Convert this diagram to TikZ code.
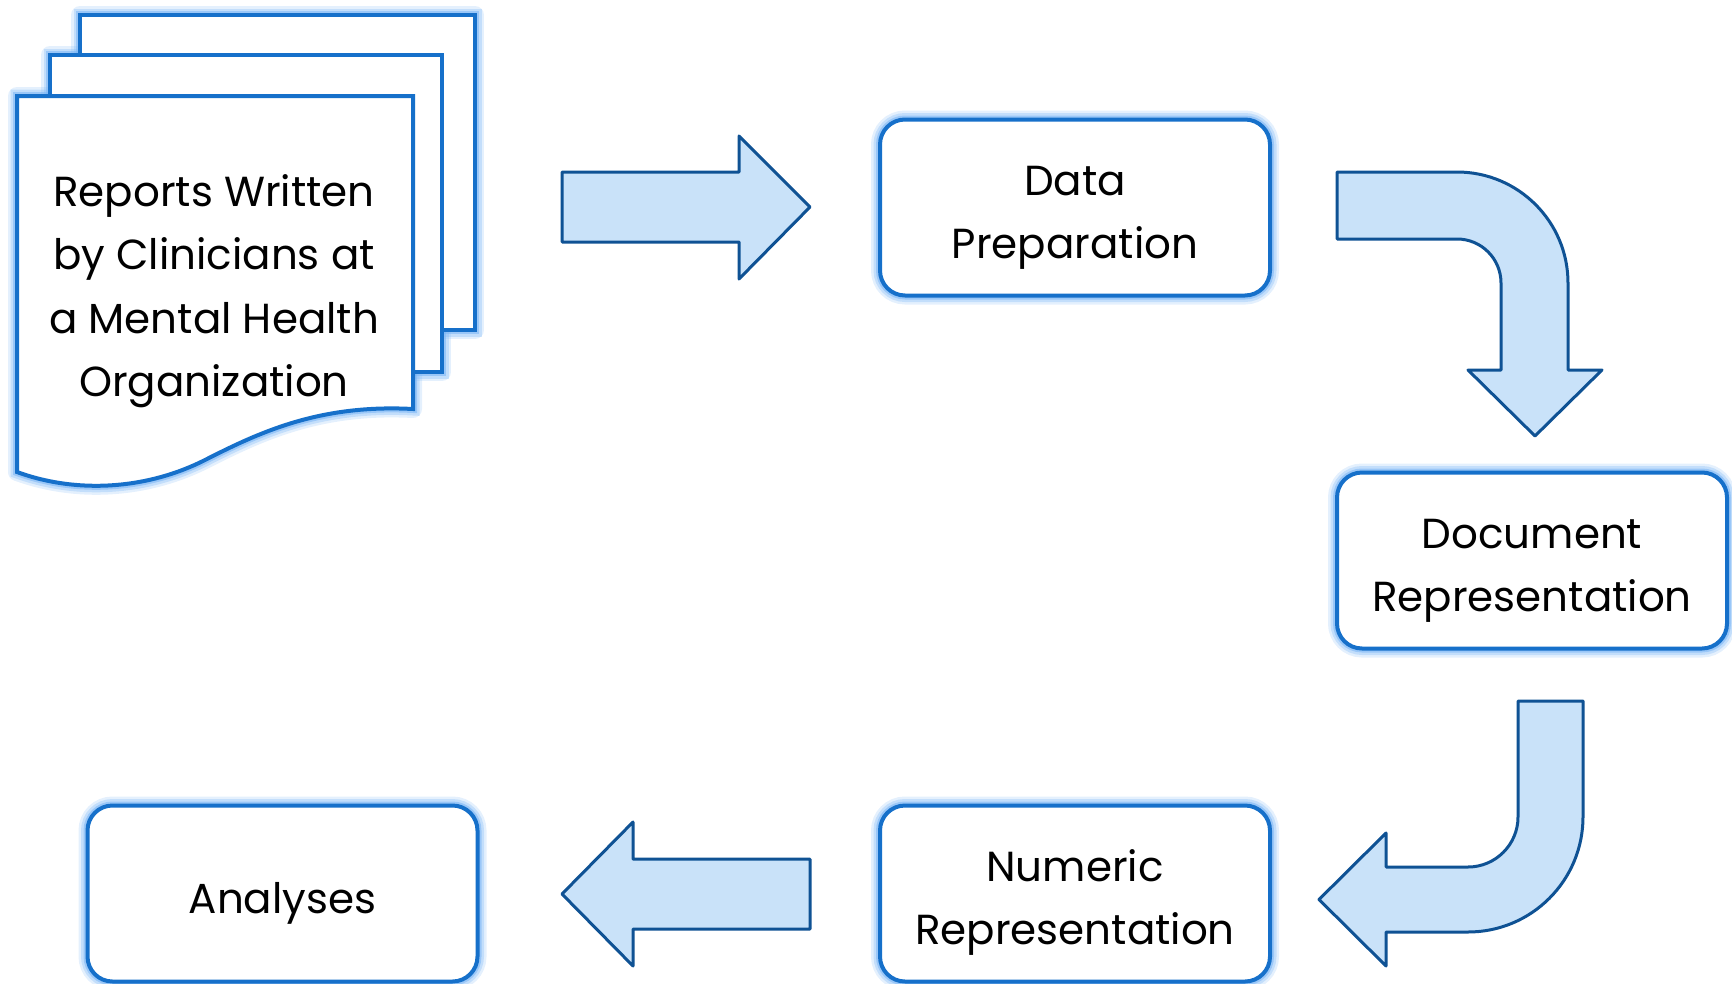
\documentclass[tikz,border=0pt]{standalone}
\usepackage{fontspec}
\setmainfont{Poppins}
\definecolor{boxblue}{RGB}{22,112,202}
\definecolor{glowc}{RGB}{120,180,245}
\definecolor{arrowfill}{RGB}{201,226,249}
\definecolor{arrowdraw}{RGB}{15,82,148}
\newcommand\topstrut{\rule{0pt}{50pt}}
\tikzset{
  glowonly/.style={draw=glowc, line width=18pt, opacity=.2, line join=round,
    preaction={draw=glowc, line width=13pt, opacity=.3},
    preaction={draw=glowc, line width=8pt, opacity=.55}},
  glow/.style={preaction={draw=glowc, line width=18pt, opacity=.2},
    preaction={draw=glowc, line width=13pt, opacity=.3},
    preaction={draw=glowc, line width=8pt, opacity=.55}},
  pagebox/.style={draw=boxblue, fill=white, line width=4pt},
  labeltext/.style={align=center, font=\fontsize{42}{63.5}\selectfont},
  procbox/.style={labeltext, glow, draw=boxblue, fill=white, line width=4pt, rounded corners=25pt,
    minimum width=390pt, minimum height=176pt, inner sep=0pt},
  blockarrow/.style={draw=arrowdraw, fill=arrowfill, line width=3pt, line join=round},
}
\newcommand\backpage[1]{\path[#1] (80,15) rectangle (475,330);}
\newcommand\midpage[1]{\path[#1] (50,55) rectangle (442,372);}
\newcommand\frontpage[1]{\path[#1] (17,96) -- (413,96) -- (413,409)
  .. controls (320,404) and (260,432) .. (205,460)
  .. controls (150,488) and (80,495) .. (17,472) -- cycle;}
\begin{document}
\begin{tikzpicture}[x=1pt,y=-1pt]
\useasboundingbox (0,0) rectangle (1732,983);
% stacked report pages
\backpage{glowonly}
\midpage{glowonly}
\frontpage{glowonly}
\backpage{pagebox}
\midpage{pagebox}
\frontpage{pagebox}
\node[labeltext] (reports) at (214,291)
  {Reports Written\\by Clinicians at\\a Mental Health\\Organization};
% process boxes
\node[procbox] (prep) at (1075,207.5) {\topstrut Data\\Preparation};
\node[procbox] (docrep) at (1532,560.5) {\topstrut Document\\Representation};
\node[procbox] (numrep) at (1075,893.5) {\topstrut Numeric\\Representation};
\node[procbox] (analyses) at (282.5,893.5) {\topstrut Analyses};
% block arrows
\path[blockarrow] (562,172) -- (739,172) -- (739,136) -- (810,207) -- (739,279)
  -- (739,242) -- (562,242) -- cycle;
\path[blockarrow] (1337,172) -- (1457,172) .. controls (1518.3,172) and (1568,221.7) .. (1568,283)
  -- (1568,370) -- (1602,370) -- (1535,436) -- (1468,370) -- (1501,370) -- (1501,283)
  .. controls (1501,258.7) and (1481.3,239) .. (1457,239) -- (1337,239) -- cycle;
\path[blockarrow] (1518,701) -- (1583,701) -- (1583,817)
  .. controls (1583,880.5) and (1531.5,932) .. (1468,932) -- (1386,932) -- (1386,966)
  -- (1319,899.5) -- (1386,833) -- (1386,867) -- (1468,867)
  .. controls (1495.6,867) and (1518,844.4) .. (1518,817) -- cycle;
\path[blockarrow] (810,859) -- (633,859) -- (633,822) -- (562,894) -- (633,966)
  -- (633,929) -- (810,929) -- cycle;
\end{tikzpicture}
\end{document}
